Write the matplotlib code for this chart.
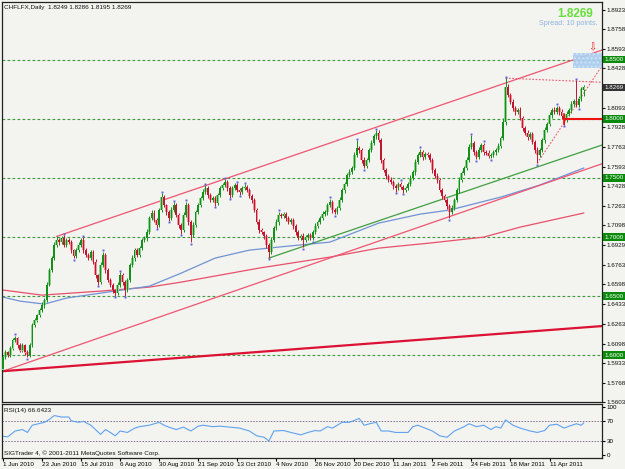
import numpy as np
import matplotlib.pyplot as plt
from matplotlib.transforms import blended_transform_factory

BG = "#F3F3EF"
plt.rcParams["font.family"] = ["Liberation Sans", "DejaVu Sans"]

# ---------------------------------------------------------------- data
first_open = 1.5880
closes = [1.5983, 1.6025, 1.6000, 1.6059, 1.6127, 1.6144, 1.6085, 1.6042, 1.6085, 1.6025,
          1.6000, 1.6085, 1.6254, 1.6296, 1.6339, 1.6381, 1.6424, 1.6466, 1.6593, 1.6720,
          1.6822, 1.6932, 1.6974, 1.6957, 1.6991, 1.6932, 1.6974, 1.6957, 1.6889, 1.6839,
          1.6889, 1.6932, 1.6974, 1.6889, 1.6847, 1.6822, 1.6872, 1.6788, 1.6678, 1.6618,
          1.6762, 1.6847, 1.6720, 1.6635, 1.6593, 1.6551, 1.6525, 1.6593, 1.6678, 1.6618,
          1.6551, 1.6635, 1.6762, 1.6822, 1.6889, 1.6847, 1.6906, 1.6974, 1.6991, 1.7042,
          1.7160, 1.7203, 1.7143, 1.7101, 1.7228, 1.7338, 1.7270, 1.7211, 1.7160, 1.7228,
          1.7270, 1.7186, 1.7101, 1.7059, 1.7186, 1.7270, 1.7127, 1.7016, 1.7101, 1.7211,
          1.7270, 1.7330, 1.7381, 1.7414, 1.7355, 1.7313, 1.7330, 1.7287, 1.7355, 1.7414,
          1.7440, 1.7465, 1.7414, 1.7355, 1.7414, 1.7440, 1.7398, 1.7381, 1.7414, 1.7423,
          1.7398, 1.7347, 1.7313, 1.7228, 1.7127, 1.7059, 1.7042, 1.7008, 1.6932, 1.6872,
          1.6974, 1.7076, 1.7127, 1.7186, 1.7177, 1.7194, 1.7160, 1.7127, 1.7143, 1.7093,
          1.7042, 1.6991, 1.7008, 1.6974, 1.6999, 1.7016, 1.6991, 1.7042, 1.7093, 1.7127,
          1.7160, 1.7194, 1.7211, 1.7270, 1.7296, 1.7228, 1.7211, 1.7245, 1.7313, 1.7398,
          1.7448, 1.7525, 1.7550, 1.7584, 1.7694, 1.7753, 1.7736, 1.7652, 1.7601, 1.7652,
          1.7736, 1.7796, 1.7855, 1.7880, 1.7821, 1.7652, 1.7567, 1.7516, 1.7482, 1.7465,
          1.7431, 1.7414, 1.7448, 1.7423, 1.7398, 1.7414, 1.7448, 1.7499, 1.7550, 1.7635,
          1.7694, 1.7719, 1.7677, 1.7702, 1.7694, 1.7652, 1.7567, 1.7516, 1.7482, 1.7398,
          1.7347, 1.7313, 1.7262, 1.7211, 1.7245, 1.7313, 1.7398, 1.7482, 1.7542, 1.7584,
          1.7652, 1.7762, 1.7796, 1.7719, 1.7677, 1.7736, 1.7779, 1.7719, 1.7711, 1.7686,
          1.7694, 1.7719, 1.7736, 1.7770, 1.7838, 1.7974, 1.8270, 1.8202, 1.8143, 1.8092,
          1.8058, 1.8075, 1.8007, 1.7923, 1.7880, 1.7846, 1.7872, 1.7804, 1.7736, 1.7694,
          1.7736, 1.7821, 1.7906, 1.7957, 1.8033, 1.8075, 1.8058, 1.8092, 1.8058, 1.8024,
          1.7990, 1.8041, 1.8075, 1.8126, 1.8150, 1.8120, 1.8170, 1.8249, 1.8269]

# wick lengths in pips above max(open, close) and below min(open, close)
up_wick = [12, 18, 14, 20, 15, 22, 10, 16, 19, 12, 15, 20, 14, 18, 12, 16, 22, 14, 25, 18,
           20, 24, 31, 15, 18, 22, 14, 20, 16, 12, 18, 22, 16, 24, 14, 18, 20, 15, 22, 12,
           25, 30, 16, 14, 20, 18, 12, 22, 26, 15, 18, 20, 15, 24, 16, 22, 18, 14, 20, 25,
           18, 22, 26, 15, 20, 34, 16, 12, 18, 22, 25, 14, 20, 16, 22, 28, 15, 18, 24, 16,
           20, 18, 22, 25, 14, 16, 20, 18, 15, 22, 18, 25, 16, 20, 22, 14, 18, 20, 16, 22,
           15, 18, 20, 14, 16, 22, 18, 12, 20, 15, 22, 18, 26, 30, 16, 20, 14, 22, 18, 16,
           20, 15, 18, 22, 14, 20, 16, 18, 22, 15, 18, 24, 20, 22, 30, 16, 18, 20, 22, 18,
           20, 16, 22, 18, 25, 68, 20, 16, 22, 18, 20, 24, 18, 26, 22, 16, 18, 20, 15, 22,
           18, 20, 15, 22, 18, 16, 20, 22, 18, 24, 20, 28, 16, 22, 18, 15, 20, 18, 22, 16,
           18, 15, 20, 16, 22, 18, 20, 24, 18, 20, 22, 25, 67, 18, 20, 24, 16, 20, 18, 22,
           18, 20, 16, 22, 20, 30, 75, 22, 18, 24, 20, 18, 22, 16, 20, 24, 18, 20, 16, 22,
           18, 20, 24, 16, 22, 18, 26, 20, 18, 22, 20, 24, 18, 22, 20, 179, 20, 18, 17]
dn_wick = [16, 14, 20, 12, 18, 15, 22, 14, 16, 20, 18, 12, 16, 20, 14, 18, 15, 22, 16, 12,
           18, 20, 14, 22, 16, 18, 20, 14, 22, 18, 15, 20, 18, 22, 16, 20, 14, 18, 22, 25,
           20, 16, 22, 18, 20, 24, 25, 18, 20, 22, 51, 18, 20, 16, 22, 14, 18, 20, 16, 22,
           18, 20, 16, 22, 18, 20, 15, 22, 24, 18, 20, 16, 22, 30, 18, 20, 22, 59, 18, 20,
           16, 18, 20, 15, 22, 18, 20, 24, 16, 18, 20, 15, 22, 24, 18, 16, 20, 22, 18, 20,
           16, 18, 22, 20, 18, 24, 20, 22, 26, 50, 20, 18, 16, 22, 20, 18, 22, 16, 20, 22,
           24, 20, 18, 60, 20, 22, 18, 20, 16, 18, 20, 16, 18, 22, 20, 24, 18, 16, 20, 18,
           22, 18, 16, 20, 18, 20, 22, 24, 20, 18, 16, 20, 18, 22, 20, 24, 18, 22, 20, 16,
           24, 30, 18, 20, 22, 18, 16, 20, 18, 22, 20, 18, 22, 16, 20, 18, 22, 20, 24, 18,
           22, 20, 24, 51, 18, 20, 16, 22, 18, 20, 16, 20, 18, 22, 20, 18, 16, 22, 20, 18,
           20, 18, 22, 16, 20, 18, 22, 20, 18, 24, 22, 20, 18, 24, 20, 22, 18, 20, 24, 68,
           20, 18, 22, 20, 18, 22, 20, 18, 24, 22, 42, 20, 18, 22, 18, 20, 22, 18, 54]

blue_ma_idx = [0, 7, 17, 26, 40, 60, 73, 87, 101, 113, 134, 154, 171, 183, 204, 220, 238]
blue_ma = [1.6491, 1.6457, 1.6432, 1.6483, 1.6525, 1.6584, 1.6694, 1.6822, 1.6889,
           1.6915, 1.6957, 1.7118, 1.7194, 1.7228, 1.7338, 1.7440, 1.7584]
red_ma_idx = [0, 16, 40, 60, 73, 105, 134, 154, 175, 197, 212, 238]
red_ma = [1.6551, 1.6508, 1.6542, 1.6576, 1.6618, 1.6737, 1.6830, 1.6906, 1.6949,
          1.6999, 1.7084, 1.7203]

rsi_idx = [0, 2, 5, 8, 10, 12, 17, 19, 21, 24, 27, 28, 31, 33, 36, 40, 42, 44, 46, 48,
           51, 54, 56, 60, 64, 66, 68, 71, 74, 77, 80, 82, 86, 89, 93, 97, 101, 104, 107, 109,
           111, 115, 118, 122, 125, 128, 130, 133, 135, 139, 142, 146, 148, 151, 153, 155, 158,
           161, 166, 168, 170, 173, 176, 179, 182, 185, 189, 191, 194, 197, 200, 202, 204, 206,
           209, 212, 216, 219, 222, 224, 227, 230, 232, 235, 237, 238]
rsi_val = [39, 38, 50, 53, 47, 62, 68, 74, 82, 79, 79, 71, 68, 70, 62, 43, 53, 47, 40, 50,
           47, 56, 59, 62, 68, 62, 58, 53, 58, 50, 60, 62, 59, 60, 58, 56, 50, 40, 37, 29,
           50, 51, 47, 42, 47, 51, 50, 59, 56, 68, 68, 76, 62, 66, 68, 50, 50,
           47, 47, 59, 62, 56, 50, 40, 37, 50, 59, 65, 59, 62, 53, 59, 56, 73,
           62, 56, 50, 47, 51, 62, 64, 56, 60, 65, 62, 66.64]

# trend lines: (bar positions, prices)
upper_channel = ([22, 245.5], [1.7005, 1.8583])
lower_channel = ([0, 245.5], [1.5864, 1.7620])
long_support = ([0, 245.5], [1.5864, 1.6246])
green_support = ([109, 245.5], [1.6822, 1.7779])
peak_dotted = ([206, 245.5], [1.8345, 1.8310])
rise_dotted = ([219, 245.5], [1.7626, 1.8450])

round_levels = [1.6000, 1.6500, 1.7000, 1.7500, 1.8000, 1.8500]
price_ticks = [1.8923, 1.8758, 1.8593, 1.8428, 1.8093, 1.7928, 1.7763, 1.7593, 1.7428,
               1.7263, 1.7098, 1.6929, 1.6763, 1.6598, 1.6433, 1.6263, 1.6098, 1.5933,
               1.5768, 1.5603]
date_idx = [0, 16, 32, 48, 64, 80, 96, 112, 128, 144, 160, 176, 192, 208, 224]
date_labels = ["1 Jun 2010", "23 Jun 2010", "15 Jul 2010", "6 Aug 2010", "30 Aug 2010",
               "21 Sep 2010", "13 Oct 2010", "4 Nov 2010", "26 Nov 2010", "20 Dec 2010",
               "11 Jan 2011", "2 Feb 2011", "24 Feb 2011", "18 Mar 2011", "11 Apr 2011"]

# ---------------------------------------------------------------- ohlc
c = np.array(closes)
o = np.r_[first_open, c[:-1]]
h = np.maximum(o, c) + np.array(up_wick) / 10000
l = np.minimum(o, c) - np.array(dn_wick) / 10000
idx = np.arange(len(c))
bull = c >= o

# ---------------------------------------------------------------- figure
fig = plt.figure(figsize=(6.25, 4.69), dpi=100)
fig.patch.set_facecolor(BG)
ax = fig.add_axes([2/625, 1 - 402/469, 600/625, 400/469])
rx = fig.add_axes([2/625, 1 - 458/469, 600/625, 54/469])
for a in (ax, rx):
    a.set_facecolor(BG)
    a.set_xlim(-0.4, 245.5)
    for s in a.spines.values():
        s.set_color("#222")
        s.set_linewidth(0.9)
ax.set_ylim(1.5603, 1.8990)

# horizontal round levels
for lv in round_levels:
    ax.axhline(lv, color="#3c9a3c", lw=0.8, ls=(0, (2.5, 2)), zorder=1)

# moving averages
ax.plot(red_ma_idx, red_ma, color="#e8506a", lw=0.9, zorder=2)
ax.plot(blue_ma_idx, blue_ma, color="#6f93d6", lw=0.9, zorder=2)

# trend lines
ax.plot(*upper_channel, color="#ee5570", lw=0.9, zorder=2)
ax.plot(*lower_channel, color="#ee5570", lw=0.9, zorder=2)
ax.plot(*long_support, color="#dd1133", lw=1.6, zorder=2)
ax.plot(*green_support, color="#3f9f3f", lw=0.9, zorder=2)
ax.plot(*peak_dotted, color="#ee5570", lw=0.8, ls=(0, (1.5, 1.5)), zorder=2)
ax.plot(*rise_dotted, color="#ee5570", lw=0.8, ls=(0, (1.5, 1.5)), zorder=2)

# candles
col_core = np.where(bull, "#13901a", "#c4152e")
col_halo = np.where(bull, "#8fd08f", "#e8959f")
ax.vlines(idx, l, h, colors=col_core, lw=0.7, zorder=3)
ax.bar(idx, np.abs(c - o) + 0.0006, bottom=np.minimum(o, c) - 0.0003, width=1.0,
       color=col_halo, zorder=3)
ax.bar(idx, np.abs(c - o) + 0.0003, bottom=np.minimum(o, c) - 0.00015, width=0.6,
       color=col_core, zorder=4)

# fractals
for i in range(2, len(c) - 2):
    if h[i] == h[i-2:i+3].max():
        ax.plot(i, h[i] + 0.0012, "s", ms=1.4, color="#6060e0", mew=0, zorder=5)
    if l[i] == l[i-2:i+3].min():
        ax.plot(i, l[i] - 0.0012, "s", ms=1.4, color="#6060e0", mew=0, zorder=5)

# price alert marks
ax.plot([230, 245.5], [1.8000, 1.8000], color="#ee1111", lw=1.5, zorder=5)
ax.plot([230, 230], [1.7960, 1.8040], color="#ee1111", lw=1.2, zorder=5)
ax.fill_between([233.6, 245.5], 1.8431, 1.8558, color="#a9cdef", alpha=0.9, zorder=2,
                hatch="....", edgecolor="#cfe3f7", lw=0)
ax.text(241.4, 1.8610, "⇩", color="#ee2222", fontsize=7, ha="center", va="center",
        family="DejaVu Sans", zorder=6)

# texts
ax.text(0.004, 0.992, "CHFLFX,Daily  1.8249 1.8286 1.8195 1.8269", transform=ax.transAxes,
        fontsize=4.6, ha="left", va="top", color="#111")
ax.text(0.985, 0.985, "1.8269", transform=ax.transAxes, fontsize=8.5, fontweight="bold",
        ha="right", va="top", color="#66e03a")
ax.text(0.993, 0.955, "Spread: 10 points.", transform=ax.transAxes, fontsize=5.2,
        ha="right", va="top", color="#8fb6e0")

# right price axis
ax.yaxis.tick_right()
ax.set_yticks(price_ticks)
ax.set_yticklabels([f"{p:.4f}" for p in price_ticks])
ax.tick_params(axis="y", labelsize=4.5, length=2, pad=1.5, colors="#111")
ax.tick_params(axis="x", bottom=False, labelbottom=False)
tr = blended_transform_factory(ax.transAxes, ax.transData)
for lv in round_levels:
    ax.text(1.004, lv, f"{lv:.4f}", transform=tr, fontsize=4.5, color="white",
            ha="left", va="center", zorder=7,
            bbox=dict(boxstyle="square,pad=0.18", fc="#0a8a0a", ec="none"))
ax.text(1.004, closes[-1], f"{closes[-1]:.4f}", transform=tr, fontsize=4.5, color="white",
        ha="left", va="center", zorder=7,
        bbox=dict(boxstyle="square,pad=0.18", fc="#333333", ec="none"))

# RSI panel
rx.set_ylim(-6, 106)
rx.axhline(70, color="#7a6a8a", lw=0.7, ls=(0, (1.5, 1.5)))
rx.axhline(30, color="#7a6a8a", lw=0.7, ls=(0, (1.5, 1.5)))
rx.plot(rsi_idx, rsi_val, color="#5fa2f0", lw=0.8)
rx.yaxis.tick_right()
rx.set_yticks([100, 70, 30, 0])
rx.tick_params(axis="y", labelsize=4.5, length=2, pad=1.5)
rx.set_xticks(date_idx)
rx.set_xticklabels(date_labels)
rx.tick_params(axis="x", labelsize=4.5, length=2, pad=1)
for lab in rx.get_xticklabels():
    lab.set_ha("left")
rx.text(0.004, 0.93, "RSI(14) 66.6423", transform=rx.transAxes, fontsize=4.6,
        ha="left", va="top", color="#111")
rx.text(0.004, 0.04, "SIGTrader 4, © 2001-2011 MetaQuotes Software Corp.",
        transform=rx.transAxes, fontsize=4.6, ha="left", va="bottom", color="#111")

fig.savefig("out.png", facecolor=BG)
